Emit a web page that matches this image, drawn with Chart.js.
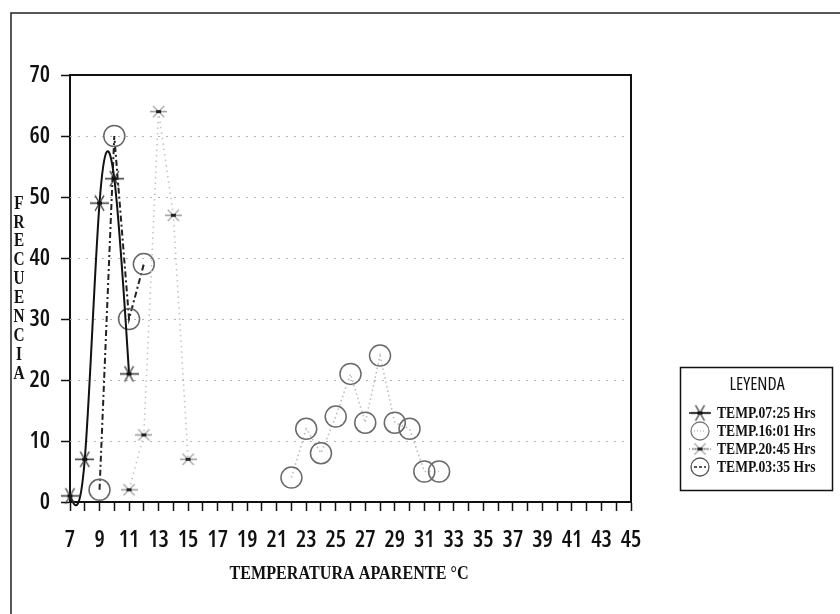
<!DOCTYPE html>
<html>
<head>
<meta charset="utf-8">
<script src="https://cdn.jsdelivr.net/npm/chart.js@4.4.0/dist/chart.umd.min.js"></script>
<style>
  html, body { margin: 0; padding: 0; background: #fff; }
  canvas { display: block; }
</style>
</head>
<body>
<canvas id="chart" width="840" height="614"></canvas>
<script>
// Frecuencia vs temperatura aparente, 4 horarios
const X_MIN = 7, X_MAX = 45, Y_MIN = 0, Y_MAX = 70;
const seriesNames = ["TEMP.07:25 Hrs", "TEMP.16:01 Hrs", "TEMP.20:45 Hrs", "TEMP.03:35 Hrs"];

const temp0725 = [7, 8, 9, 10, 11];
const freq0725 = [1, 7, 49, 53, 21];
const temp1601 = [22, 23, 24, 25, 26, 27, 28, 29, 30, 31, 32];
const freq1601 = [4, 12, 8, 14, 21, 13, 24, 13, 12, 5, 5];
const temp2045 = [11, 12, 13, 14, 15];
const freq2045 = [2, 11, 64, 47, 7];
const temp0335 = [9, 10, 11, 12];
const freq0335 = [2, 60, 30, 39];

const gridValues = [10, 20, 30, 40, 50, 60];
const yTitle = "FRECUENCIA";
const xTitle = "TEMPERATURA APARENTE °C";
const legendTitle = "LEYENDA";

const SANS = "'Open Sans', 'Roboto Condensed', sans-serif";
const SERIF = "'Liberation Serif', 'DejaVu Serif', serif";

function toPoints(xs, ys) {
  return xs.map((x, i) => ({ x: x, y: ys[i] }));
}

// text squeezed horizontally (the original uses narrow plotter fonts)
function fillNarrow(ctx, text, x, y, sx, align) {
  ctx.save();
  ctx.translate(x, y);
  ctx.scale(sx, 1);
  ctx.textAlign = align;
  ctx.fillText(text, 0, 0);
  ctx.restore();
}

// asterisk marker: horizontal bar + two diagonals
function asterisk(size, armColor, centerColor, angle) {
  const c = document.createElement("canvas");
  c.width = size; c.height = size;
  const g = c.getContext("2d");
  const m = size / 2, r = size / 2 - 0.5;
  g.strokeStyle = armColor;
  g.lineWidth = 1.3;
  g.beginPath();
  g.moveTo(0, m); g.lineTo(size, m);
  const dx = Math.cos(angle) * r, dy = Math.sin(angle) * r;
  g.moveTo(m - dx, m - dy); g.lineTo(m + dx, m + dy);
  g.moveTo(m - dx, m + dy); g.lineTo(m + dx, m - dy);
  g.stroke();
  g.fillStyle = centerColor;
  g.fillRect(m - 2.5, m - 1.5, 5, 3);
  return c;
}

const star0725 = asterisk(19, "#333", "#111", Math.PI / 3);
const star2045 = asterisk(17, "#999", "#222", Math.PI / 4);

// natural cubic spline through the points of a dataset, set as bezier control points
function naturalControlPoints(pts) {
  const n = pts.length;
  if (n < 3) return;
  const x = pts.map(p => p.x), y = pts.map(p => p.y);
  const h = [];
  for (let i = 0; i < n - 1; i++) h.push(x[i + 1] - x[i]);
  const M = new Array(n).fill(0);
  const a = [], b = [], c = [], d = [];
  for (let i = 1; i < n - 1; i++) {
    a.push(h[i - 1]);
    b.push(2 * (h[i - 1] + h[i]));
    c.push(h[i]);
    d.push(6 * ((y[i + 1] - y[i]) / h[i] - (y[i] - y[i - 1]) / h[i - 1]));
  }
  const m = b.length;
  for (let i = 1; i < m; i++) {
    const w = a[i] / b[i - 1];
    b[i] -= w * c[i - 1];
    d[i] -= w * d[i - 1];
  }
  const sol = new Array(m);
  sol[m - 1] = d[m - 1] / b[m - 1];
  for (let i = m - 2; i >= 0; i--) sol[i] = (d[i] - c[i] * sol[i + 1]) / b[i];
  for (let i = 0; i < m; i++) M[i + 1] = sol[i];
  const s = [];
  for (let i = 0; i < n - 1; i++) s.push((y[i + 1] - y[i]) / h[i] - h[i] * (2 * M[i] + M[i + 1]) / 6);
  s.push((y[n - 1] - y[n - 2]) / h[n - 2] + h[n - 2] * (M[n - 2] + 2 * M[n - 1]) / 6);
  for (let i = 0; i < n; i++) {
    const hl = i > 0 ? h[i - 1] : h[0];
    const hr = i < n - 1 ? h[i] : h[n - 2];
    pts[i].cp1x = x[i] - hl / 3; pts[i].cp1y = y[i] - s[i] * hl / 3;
    pts[i].cp2x = x[i] + hr / 3; pts[i].cp2y = y[i] + s[i] * hr / 3;
  }
}

const splinePlugin = {
  id: "naturalSpline",
  beforeDatasetDraw(chart, args) {
    const ds = chart.data.datasets[args.index];
    if (!ds.naturalSpline) return;
    const line = args.meta.dataset;
    naturalControlPoints(args.meta.data);
    line._pointsUpdated = true;
    delete line._path;
  }
};

function drawAsteriskIcon(ctx, img, x, y, lineColor, dash) {
  ctx.save();
  ctx.strokeStyle = lineColor;
  ctx.lineWidth = 1.5;
  ctx.setLineDash(dash);
  ctx.beginPath(); ctx.moveTo(x - 11, y); ctx.lineTo(x + 11, y); ctx.stroke();
  ctx.restore();
  ctx.drawImage(img, x - img.width / 2, y - img.height / 2);
}

function drawCircleIcon(ctx, x, y, color, lineColor, dash) {
  ctx.save();
  ctx.strokeStyle = lineColor;
  ctx.lineWidth = 1.3;
  ctx.setLineDash(dash);
  ctx.beginPath(); ctx.moveTo(x - 6, y); ctx.lineTo(x + 6, y); ctx.stroke();
  ctx.setLineDash([]);
  ctx.strokeStyle = color;
  ctx.lineWidth = 1.3;
  ctx.beginPath(); ctx.arc(x, y, 9, 0, Math.PI * 2); ctx.stroke();
  ctx.restore();
}

const decorPlugin = {
  id: "decor",
  beforeDraw(chart) {
    const ctx = chart.ctx;
    ctx.save();
    ctx.fillStyle = "#fff";
    ctx.fillRect(0, 0, chart.width, chart.height);
    // outer frame
    ctx.strokeStyle = "#222";
    ctx.lineWidth = 1.5;
    ctx.beginPath();
    ctx.moveTo(11, chart.height);
    ctx.lineTo(11, 13);
    ctx.lineTo(chart.width, 13);
    ctx.stroke();
    ctx.restore();
  },
  beforeDatasetsDraw(chart) {
    const ctx = chart.ctx;
    const area = chart.chartArea;
    const ys = chart.scales.y;
    ctx.save();
    ctx.strokeStyle = "#b4b4b4";
    ctx.lineWidth = 1.2;
    ctx.setLineDash([2, 6]);
    gridValues.forEach(v => {
      const py = Math.round(ys.getPixelForValue(v)) + 0.5;
      ctx.beginPath();
      ctx.moveTo(area.left, py);
      ctx.lineTo(area.right, py);
      ctx.stroke();
    });
    ctx.setLineDash([]);
    // top and right sides of the plot box
    ctx.strokeStyle = "#111";
    ctx.lineWidth = 2;
    ctx.beginPath();
    ctx.moveTo(area.left, area.top);
    ctx.lineTo(area.right, area.top);
    ctx.lineTo(area.right, area.bottom);
    ctx.stroke();
    ctx.restore();
  },
  afterDraw(chart) {
    const ctx = chart.ctx;
    ctx.save();
    ctx.fillStyle = "#111";
    ctx.textBaseline = "middle";
    // vertical stacked y title
    ctx.font = "bold 18px " + SERIF;
    yTitle.split("").forEach((ch, i) => fillNarrow(ctx, ch, 19, 204 + i * 18.9, 0.85, "center"));
    // x title
    ctx.font = "bold 19px " + SERIF;
    fillNarrow(ctx, xTitle, 349, 574, 0.85, "center");
    // legend box
    ctx.strokeStyle = "#111";
    ctx.lineWidth = 1.5;
    ctx.strokeRect(680.5, 367.5, 152, 123);
    ctx.font = "condensed 18px " + SANS;
    fillNarrow(ctx, legendTitle, 757, 385, 1, "center");
    const rows = [413, 431, 449, 467];
    drawAsteriskIcon(ctx, star0725, 700, rows[0], "#111", []);
    drawCircleIcon(ctx, 700, rows[1], "#777", "#bbb", [1, 2]);
    drawAsteriskIcon(ctx, star2045, 700, rows[2], "#999", [1, 2]);
    drawCircleIcon(ctx, 700, rows[3], "#555", "#222", [3, 2]);
    ctx.fillStyle = "#111";
    ctx.font = "bold 17px " + SERIF;
    seriesNames.forEach((name, i) => fillNarrow(ctx, name, 717, rows[i] + 1, 0.8, "left"));
    ctx.restore();
  }
};

const datasets = [
  {
    label: seriesNames[0],
    data: toPoints(temp0725, freq0725),
    borderColor: "#111",
    borderWidth: 2,
    tension: 0.4,
    naturalSpline: true,
    pointStyle: star0725,
    pointRadius: 9,
    clip: false
  },
  {
    label: seriesNames[1],
    data: toPoints(temp1601, freq1601),
    borderColor: "#bdbdbd",
    borderWidth: 1.6,
    borderDash: [1.5, 3],
    tension: 0,
    pointStyle: "circle",
    pointRadius: 10.5,
    pointBorderWidth: 1.5,
    pointBorderColor: "#6a6a6a",
    pointBackgroundColor: "rgba(255,255,255,0)",
    clip: false
  },
  {
    label: seriesNames[2],
    data: toPoints(temp2045, freq2045),
    borderColor: "#c4c4c4",
    borderWidth: 1.6,
    borderDash: [1.5, 4],
    tension: 0,
    pointStyle: star2045,
    pointRadius: 8,
    clip: false
  },
  {
    label: seriesNames[3],
    data: toPoints(temp0335, freq0335),
    borderColor: "#222",
    borderWidth: 2,
    borderDash: [6, 3, 2, 3],
    tension: 0,
    pointStyle: "circle",
    pointRadius: 10.5,
    pointBorderWidth: 1.5,
    pointBorderColor: "#666",
    pointBackgroundColor: "rgba(255,255,255,0)",
    clip: false
  }
];

const tickFont = { family: SANS, size: 23, weight: "600 condensed" };

new Chart(document.getElementById("chart"), {
  type: "line",
  data: { datasets: datasets },
  plugins: [splinePlugin, decorPlugin],
  options: {
    responsive: false,
    animation: false,
    layout: { padding: { left: 10, top: 75, right: 209, bottom: 0 } },
    plugins: {
      legend: { display: false },
      tooltip: { enabled: false }
    },
    scales: {
      x: {
        type: "linear",
        min: X_MIN,
        max: X_MAX,
        afterFit(scale) { scale.height = 112; },
        border: { display: true, color: "#111", width: 2 },
        grid: { drawOnChartArea: false, drawTicks: true, tickLength: 9, tickColor: "#111", tickWidth: 1.5 },
        ticks: {
          stepSize: 1,
          autoSkip: false,
          maxRotation: 0,
          padding: 16,
          color: "#111",
          font: tickFont,
          callback: (v) => ((v - X_MIN) % 2 === 0 ? String(v) : "")
        }
      },
      y: {
        min: Y_MIN,
        max: Y_MAX,
        afterFit(scale) { scale.width = 60; },
        border: { display: true, color: "#111", width: 2 },
        grid: { drawOnChartArea: false, drawTicks: true, tickLength: 9, tickColor: "#111", tickWidth: 1.5 },
        ticks: {
          stepSize: 5,
          padding: 11,
          color: "#111",
          font: tickFont,
          callback: (v) => (v % 10 === 0 ? String(v) : "")
        }
      }
    }
  }
});
</script>
</body>
</html>
